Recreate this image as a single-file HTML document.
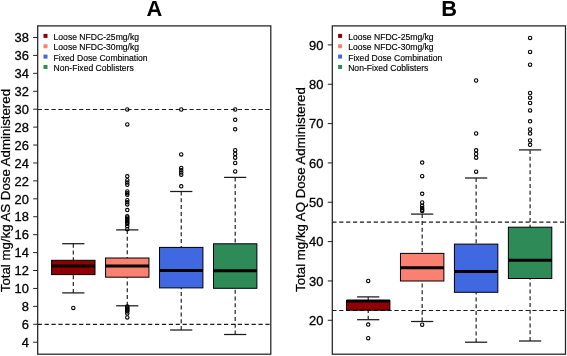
<!DOCTYPE html><html><head><meta charset="utf-8"><style>html,body{margin:0;padding:0;background:#fff;width:567px;height:356px;overflow:hidden}svg{display:block;will-change:transform}</style></head><body>
<svg width="567" height="356" viewBox="0 0 567 356" font-family='"Liberation Sans", sans-serif' fill="#000">
<line x1="37.7" y1="109.5" x2="270.8" y2="109.5" stroke="#1a1a1a" stroke-width="1.15" stroke-dasharray="4.2 2.7"/>
<line x1="37.7" y1="324.4" x2="270.8" y2="324.4" stroke="#1a1a1a" stroke-width="1.15" stroke-dasharray="4.2 2.7"/>
<line x1="73.31" y1="243.7" x2="73.31" y2="260.3" stroke="#1a1a1a" stroke-width="1.15" stroke-dasharray="4 2.8"/>
<line x1="73.31" y1="292.9" x2="73.31" y2="274.6" stroke="#1a1a1a" stroke-width="1.15" stroke-dasharray="4 2.8"/>
<line x1="62.21" y1="243.7" x2="84.41" y2="243.7" stroke="#1a1a1a" stroke-width="1.25"/>
<line x1="62.21" y1="292.9" x2="84.41" y2="292.9" stroke="#1a1a1a" stroke-width="1.25"/>
<rect x="51.61" y="260.3" width="43.4" height="14.3" fill="#900000" stroke="#000" stroke-width="1"/>
<line x1="51.61" y1="265.9" x2="95.01" y2="265.9" stroke="#000" stroke-width="3"/>
<circle cx="73.31" cy="307.9" r="1.7" fill="none" stroke="#000" stroke-width="1.1"/>
<line x1="127.27" y1="229.9" x2="127.27" y2="258" stroke="#1a1a1a" stroke-width="1.15" stroke-dasharray="4 2.8"/>
<line x1="127.27" y1="305.8" x2="127.27" y2="277.2" stroke="#1a1a1a" stroke-width="1.15" stroke-dasharray="4 2.8"/>
<line x1="116.17" y1="229.9" x2="138.37" y2="229.9" stroke="#1a1a1a" stroke-width="1.25"/>
<line x1="116.17" y1="305.8" x2="138.37" y2="305.8" stroke="#1a1a1a" stroke-width="1.25"/>
<rect x="105.57" y="258" width="43.4" height="19.2" fill="#fa8072" stroke="#000" stroke-width="1"/>
<line x1="105.57" y1="266" x2="148.97" y2="266" stroke="#000" stroke-width="3"/>
<circle cx="127.27" cy="109.5" r="1.7" fill="none" stroke="#000" stroke-width="1.1"/>
<circle cx="127.27" cy="124.4" r="1.7" fill="none" stroke="#000" stroke-width="1.1"/>
<circle cx="127.27" cy="176.3" r="1.7" fill="none" stroke="#000" stroke-width="1.1"/>
<circle cx="127.27" cy="180.2" r="1.7" fill="none" stroke="#000" stroke-width="1.1"/>
<circle cx="127.27" cy="182.5" r="1.7" fill="none" stroke="#000" stroke-width="1.1"/>
<circle cx="127.27" cy="184.8" r="1.7" fill="none" stroke="#000" stroke-width="1.1"/>
<circle cx="127.27" cy="191.5" r="1.7" fill="none" stroke="#000" stroke-width="1.1"/>
<circle cx="127.27" cy="193.2" r="1.7" fill="none" stroke="#000" stroke-width="1.1"/>
<circle cx="127.27" cy="194.8" r="1.7" fill="none" stroke="#000" stroke-width="1.1"/>
<circle cx="127.27" cy="200.2" r="1.7" fill="none" stroke="#000" stroke-width="1.1"/>
<circle cx="127.27" cy="202.3" r="1.7" fill="none" stroke="#000" stroke-width="1.1"/>
<circle cx="127.27" cy="204.4" r="1.7" fill="none" stroke="#000" stroke-width="1.1"/>
<circle cx="127.27" cy="210.1" r="1.7" fill="none" stroke="#000" stroke-width="1.1"/>
<circle cx="127.27" cy="216.2" r="1.7" fill="none" stroke="#000" stroke-width="1.1"/>
<circle cx="127.27" cy="217.5" r="1.7" fill="none" stroke="#000" stroke-width="1.1"/>
<circle cx="127.27" cy="218.8" r="1.7" fill="none" stroke="#000" stroke-width="1.1"/>
<circle cx="127.27" cy="220.1" r="1.7" fill="none" stroke="#000" stroke-width="1.1"/>
<circle cx="127.27" cy="221.4" r="1.7" fill="none" stroke="#000" stroke-width="1.1"/>
<circle cx="127.27" cy="222.7" r="1.7" fill="none" stroke="#000" stroke-width="1.1"/>
<circle cx="127.27" cy="224.0" r="1.7" fill="none" stroke="#000" stroke-width="1.1"/>
<circle cx="127.27" cy="226.3" r="1.7" fill="none" stroke="#000" stroke-width="1.1"/>
<circle cx="127.27" cy="229.2" r="1.7" fill="none" stroke="#000" stroke-width="1.1"/>
<circle cx="127.27" cy="306.5" r="1.7" fill="none" stroke="#000" stroke-width="1.1"/>
<circle cx="127.27" cy="307.5" r="1.7" fill="none" stroke="#000" stroke-width="1.1"/>
<circle cx="127.27" cy="308.5" r="1.7" fill="none" stroke="#000" stroke-width="1.1"/>
<circle cx="127.27" cy="309.5" r="1.7" fill="none" stroke="#000" stroke-width="1.1"/>
<circle cx="127.27" cy="310.5" r="1.7" fill="none" stroke="#000" stroke-width="1.1"/>
<circle cx="127.27" cy="311.5" r="1.7" fill="none" stroke="#000" stroke-width="1.1"/>
<circle cx="127.27" cy="313.5" r="1.7" fill="none" stroke="#000" stroke-width="1.1"/>
<circle cx="127.27" cy="317.4" r="1.7" fill="none" stroke="#000" stroke-width="1.1"/>
<line x1="181.23" y1="191.5" x2="181.23" y2="247.4" stroke="#1a1a1a" stroke-width="1.15" stroke-dasharray="4 2.8"/>
<line x1="181.23" y1="330" x2="181.23" y2="287.9" stroke="#1a1a1a" stroke-width="1.15" stroke-dasharray="4 2.8"/>
<line x1="170.13" y1="191.5" x2="192.33" y2="191.5" stroke="#1a1a1a" stroke-width="1.25"/>
<line x1="170.13" y1="330" x2="192.33" y2="330" stroke="#1a1a1a" stroke-width="1.25"/>
<rect x="159.53" y="247.4" width="43.4" height="40.5" fill="#3f68e1" stroke="#000" stroke-width="1"/>
<line x1="159.53" y1="270.4" x2="202.93" y2="270.4" stroke="#000" stroke-width="3"/>
<circle cx="181.23" cy="109.5" r="1.7" fill="none" stroke="#000" stroke-width="1.1"/>
<circle cx="181.23" cy="154.4" r="1.7" fill="none" stroke="#000" stroke-width="1.1"/>
<circle cx="181.23" cy="168" r="1.7" fill="none" stroke="#000" stroke-width="1.1"/>
<circle cx="181.23" cy="170.2" r="1.7" fill="none" stroke="#000" stroke-width="1.1"/>
<circle cx="181.23" cy="172.5" r="1.7" fill="none" stroke="#000" stroke-width="1.1"/>
<circle cx="181.23" cy="174.7" r="1.7" fill="none" stroke="#000" stroke-width="1.1"/>
<circle cx="181.23" cy="186.3" r="1.7" fill="none" stroke="#000" stroke-width="1.1"/>
<line x1="235.19" y1="177.4" x2="235.19" y2="243.8" stroke="#1a1a1a" stroke-width="1.15" stroke-dasharray="4 2.8"/>
<line x1="235.19" y1="334.5" x2="235.19" y2="288.3" stroke="#1a1a1a" stroke-width="1.15" stroke-dasharray="4 2.8"/>
<line x1="224.09" y1="177.4" x2="246.29" y2="177.4" stroke="#1a1a1a" stroke-width="1.25"/>
<line x1="224.09" y1="334.5" x2="246.29" y2="334.5" stroke="#1a1a1a" stroke-width="1.25"/>
<rect x="213.49" y="243.8" width="43.4" height="44.5" fill="#2e8b57" stroke="#000" stroke-width="1"/>
<line x1="213.49" y1="270.7" x2="256.89" y2="270.7" stroke="#000" stroke-width="3"/>
<circle cx="235.19" cy="109.5" r="1.7" fill="none" stroke="#000" stroke-width="1.1"/>
<circle cx="235.19" cy="119.8" r="1.7" fill="none" stroke="#000" stroke-width="1.1"/>
<circle cx="235.19" cy="129.3" r="1.7" fill="none" stroke="#000" stroke-width="1.1"/>
<circle cx="235.19" cy="150.2" r="1.7" fill="none" stroke="#000" stroke-width="1.1"/>
<circle cx="235.19" cy="153.9" r="1.7" fill="none" stroke="#000" stroke-width="1.1"/>
<circle cx="235.19" cy="157.7" r="1.7" fill="none" stroke="#000" stroke-width="1.1"/>
<circle cx="235.19" cy="163.0" r="1.7" fill="none" stroke="#000" stroke-width="1.1"/>
<circle cx="235.19" cy="171.4" r="1.7" fill="none" stroke="#000" stroke-width="1.1"/>
<rect x="37.7" y="25.9" width="233.1" height="328.3" fill="none" stroke="#222" stroke-width="1.25"/>
<line x1="33.2" y1="342.21" x2="37.7" y2="342.21" stroke="#222" stroke-width="1"/>
<text x="28.9" y="346.91" text-anchor="end" font-size="12.9" stroke="#000" stroke-width="0.3">4</text>
<line x1="33.2" y1="324.28" x2="37.7" y2="324.28" stroke="#222" stroke-width="1"/>
<text x="28.9" y="328.98" text-anchor="end" font-size="12.9" stroke="#000" stroke-width="0.3">6</text>
<line x1="33.2" y1="306.36" x2="37.7" y2="306.36" stroke="#222" stroke-width="1"/>
<text x="28.9" y="311.06" text-anchor="end" font-size="12.9" stroke="#000" stroke-width="0.3">8</text>
<line x1="33.2" y1="288.44" x2="37.7" y2="288.44" stroke="#222" stroke-width="1"/>
<text x="28.9" y="293.14" text-anchor="end" font-size="12.9" stroke="#000" stroke-width="0.3">10</text>
<line x1="33.2" y1="270.51" x2="37.7" y2="270.51" stroke="#222" stroke-width="1"/>
<text x="28.9" y="275.21" text-anchor="end" font-size="12.9" stroke="#000" stroke-width="0.3">12</text>
<line x1="33.2" y1="252.59" x2="37.7" y2="252.59" stroke="#222" stroke-width="1"/>
<text x="28.9" y="257.29" text-anchor="end" font-size="12.9" stroke="#000" stroke-width="0.3">14</text>
<line x1="33.2" y1="234.66" x2="37.7" y2="234.66" stroke="#222" stroke-width="1"/>
<text x="28.9" y="239.36" text-anchor="end" font-size="12.9" stroke="#000" stroke-width="0.3">16</text>
<line x1="33.2" y1="216.74" x2="37.7" y2="216.74" stroke="#222" stroke-width="1"/>
<text x="28.9" y="221.44" text-anchor="end" font-size="12.9" stroke="#000" stroke-width="0.3">18</text>
<line x1="33.2" y1="198.82" x2="37.7" y2="198.82" stroke="#222" stroke-width="1"/>
<text x="28.9" y="203.52" text-anchor="end" font-size="12.9" stroke="#000" stroke-width="0.3">20</text>
<line x1="33.2" y1="180.89" x2="37.7" y2="180.89" stroke="#222" stroke-width="1"/>
<text x="28.9" y="185.59" text-anchor="end" font-size="12.9" stroke="#000" stroke-width="0.3">22</text>
<line x1="33.2" y1="162.97" x2="37.7" y2="162.97" stroke="#222" stroke-width="1"/>
<text x="28.9" y="167.67" text-anchor="end" font-size="12.9" stroke="#000" stroke-width="0.3">24</text>
<line x1="33.2" y1="145.04" x2="37.7" y2="145.04" stroke="#222" stroke-width="1"/>
<text x="28.9" y="149.74" text-anchor="end" font-size="12.9" stroke="#000" stroke-width="0.3">26</text>
<line x1="33.2" y1="127.12" x2="37.7" y2="127.12" stroke="#222" stroke-width="1"/>
<text x="28.9" y="131.82" text-anchor="end" font-size="12.9" stroke="#000" stroke-width="0.3">28</text>
<line x1="33.2" y1="109.2" x2="37.7" y2="109.2" stroke="#222" stroke-width="1"/>
<text x="28.9" y="113.9" text-anchor="end" font-size="12.9" stroke="#000" stroke-width="0.3">30</text>
<line x1="33.2" y1="91.27" x2="37.7" y2="91.27" stroke="#222" stroke-width="1"/>
<text x="28.9" y="95.97" text-anchor="end" font-size="12.9" stroke="#000" stroke-width="0.3">32</text>
<line x1="33.2" y1="73.35" x2="37.7" y2="73.35" stroke="#222" stroke-width="1"/>
<text x="28.9" y="78.05" text-anchor="end" font-size="12.9" stroke="#000" stroke-width="0.3">34</text>
<line x1="33.2" y1="55.42" x2="37.7" y2="55.42" stroke="#222" stroke-width="1"/>
<text x="28.9" y="60.12" text-anchor="end" font-size="12.9" stroke="#000" stroke-width="0.3">36</text>
<line x1="33.2" y1="37.5" x2="37.7" y2="37.5" stroke="#222" stroke-width="1"/>
<text x="28.9" y="42.2" text-anchor="end" font-size="12.9" stroke="#000" stroke-width="0.3">38</text>
<text x="154.25" y="16" text-anchor="middle" font-size="21.8" font-weight="bold">A</text>
<text transform="translate(9.8,190.6) rotate(-90)" text-anchor="middle" font-size="13.25" stroke="#000" stroke-width="0.25">Total mg/kg AS Dose Administered</text>
<rect x="43.5" y="33.9" width="4" height="4" fill="#900000"/>
<text x="53.55" y="39.9" font-size="8.6" stroke="#000" stroke-width="0.15">Loose NFDC-25mg/kg</text>
<rect x="43.5" y="44.25" width="4" height="4" fill="#fa8072"/>
<text x="53.55" y="50.25" font-size="8.6" stroke="#000" stroke-width="0.15">Loose NFDC-30mg/kg</text>
<rect x="43.5" y="54.6" width="4" height="4" fill="#3f68e1"/>
<text x="53.55" y="60.6" font-size="8.6" stroke="#000" stroke-width="0.15">Fixed Dose Combination</text>
<rect x="43.5" y="64.95" width="4" height="4" fill="#2e8b57"/>
<text x="53.55" y="70.95" font-size="8.6" stroke="#000" stroke-width="0.15">Non-Fixed Coblisters</text>
<line x1="332.3" y1="222.1" x2="565.5" y2="222.1" stroke="#1a1a1a" stroke-width="1.15" stroke-dasharray="4.2 2.7"/>
<line x1="332.3" y1="310.5" x2="565.5" y2="310.5" stroke="#1a1a1a" stroke-width="1.15" stroke-dasharray="4.2 2.7"/>
<line x1="368.21" y1="296.9" x2="368.21" y2="300.5" stroke="#1a1a1a" stroke-width="1.15" stroke-dasharray="4 2.8"/>
<line x1="368.21" y1="319.7" x2="368.21" y2="310.2" stroke="#1a1a1a" stroke-width="1.15" stroke-dasharray="4 2.8"/>
<line x1="357.11" y1="296.9" x2="379.31" y2="296.9" stroke="#1a1a1a" stroke-width="1.25"/>
<line x1="357.11" y1="319.7" x2="379.31" y2="319.7" stroke="#1a1a1a" stroke-width="1.25"/>
<rect x="346.51" y="300.5" width="43.4" height="9.7" fill="#900000" stroke="#000" stroke-width="1"/>
<line x1="346.51" y1="301" x2="389.91" y2="301" stroke="#000" stroke-width="3"/>
<circle cx="368.21" cy="280.9" r="1.7" fill="none" stroke="#000" stroke-width="1.1"/>
<circle cx="368.21" cy="324.6" r="1.7" fill="none" stroke="#000" stroke-width="1.1"/>
<circle cx="368.21" cy="338.2" r="1.7" fill="none" stroke="#000" stroke-width="1.1"/>
<line x1="422.17" y1="214.1" x2="422.17" y2="253.4" stroke="#1a1a1a" stroke-width="1.15" stroke-dasharray="4 2.8"/>
<line x1="422.17" y1="321.5" x2="422.17" y2="281" stroke="#1a1a1a" stroke-width="1.15" stroke-dasharray="4 2.8"/>
<line x1="411.07" y1="214.1" x2="433.27" y2="214.1" stroke="#1a1a1a" stroke-width="1.25"/>
<line x1="411.07" y1="321.5" x2="433.27" y2="321.5" stroke="#1a1a1a" stroke-width="1.25"/>
<rect x="400.47" y="253.4" width="43.4" height="27.6" fill="#fa8072" stroke="#000" stroke-width="1"/>
<line x1="400.47" y1="267.8" x2="443.87" y2="267.8" stroke="#000" stroke-width="3"/>
<circle cx="422.17" cy="162.6" r="1.7" fill="none" stroke="#000" stroke-width="1.1"/>
<circle cx="422.17" cy="176.2" r="1.7" fill="none" stroke="#000" stroke-width="1.1"/>
<circle cx="422.17" cy="193.8" r="1.7" fill="none" stroke="#000" stroke-width="1.1"/>
<circle cx="422.17" cy="202.5" r="1.7" fill="none" stroke="#000" stroke-width="1.1"/>
<circle cx="422.17" cy="205.8" r="1.7" fill="none" stroke="#000" stroke-width="1.1"/>
<circle cx="422.17" cy="208.1" r="1.7" fill="none" stroke="#000" stroke-width="1.1"/>
<circle cx="422.17" cy="209.8" r="1.7" fill="none" stroke="#000" stroke-width="1.1"/>
<circle cx="422.17" cy="210.9" r="1.7" fill="none" stroke="#000" stroke-width="1.1"/>
<circle cx="422.17" cy="324.7" r="1.7" fill="none" stroke="#000" stroke-width="1.1"/>
<line x1="476.13" y1="178.0" x2="476.13" y2="244.1" stroke="#1a1a1a" stroke-width="1.15" stroke-dasharray="4 2.8"/>
<line x1="476.13" y1="342.2" x2="476.13" y2="292.3" stroke="#1a1a1a" stroke-width="1.15" stroke-dasharray="4 2.8"/>
<line x1="465.03" y1="178.0" x2="487.23" y2="178.0" stroke="#1a1a1a" stroke-width="1.25"/>
<line x1="465.03" y1="342.2" x2="487.23" y2="342.2" stroke="#1a1a1a" stroke-width="1.25"/>
<rect x="454.43" y="244.1" width="43.4" height="48.2" fill="#3f68e1" stroke="#000" stroke-width="1"/>
<line x1="454.43" y1="271.4" x2="497.83" y2="271.4" stroke="#000" stroke-width="3"/>
<circle cx="476.13" cy="80.5" r="1.7" fill="none" stroke="#000" stroke-width="1.1"/>
<circle cx="476.13" cy="133.5" r="1.7" fill="none" stroke="#000" stroke-width="1.1"/>
<circle cx="476.13" cy="150.3" r="1.7" fill="none" stroke="#000" stroke-width="1.1"/>
<circle cx="476.13" cy="154.0" r="1.7" fill="none" stroke="#000" stroke-width="1.1"/>
<circle cx="476.13" cy="157.7" r="1.7" fill="none" stroke="#000" stroke-width="1.1"/>
<circle cx="476.13" cy="171.7" r="1.7" fill="none" stroke="#000" stroke-width="1.1"/>
<line x1="530.09" y1="149.9" x2="530.09" y2="227.2" stroke="#1a1a1a" stroke-width="1.15" stroke-dasharray="4 2.8"/>
<line x1="530.09" y1="341" x2="530.09" y2="278.5" stroke="#1a1a1a" stroke-width="1.15" stroke-dasharray="4 2.8"/>
<line x1="518.99" y1="149.9" x2="541.19" y2="149.9" stroke="#1a1a1a" stroke-width="1.25"/>
<line x1="518.99" y1="341" x2="541.19" y2="341" stroke="#1a1a1a" stroke-width="1.25"/>
<rect x="508.39" y="227.2" width="43.4" height="51.3" fill="#2e8b57" stroke="#000" stroke-width="1"/>
<line x1="508.39" y1="260.2" x2="551.79" y2="260.2" stroke="#000" stroke-width="3"/>
<circle cx="530.09" cy="37.9" r="1.7" fill="none" stroke="#000" stroke-width="1.1"/>
<circle cx="530.09" cy="51.9" r="1.7" fill="none" stroke="#000" stroke-width="1.1"/>
<circle cx="530.09" cy="64.7" r="1.7" fill="none" stroke="#000" stroke-width="1.1"/>
<circle cx="530.09" cy="93" r="1.7" fill="none" stroke="#000" stroke-width="1.1"/>
<circle cx="530.09" cy="97.7" r="1.7" fill="none" stroke="#000" stroke-width="1.1"/>
<circle cx="530.09" cy="103" r="1.7" fill="none" stroke="#000" stroke-width="1.1"/>
<circle cx="530.09" cy="110.4" r="1.7" fill="none" stroke="#000" stroke-width="1.1"/>
<circle cx="530.09" cy="121.3" r="1.7" fill="none" stroke="#000" stroke-width="1.1"/>
<circle cx="530.09" cy="129.4" r="1.7" fill="none" stroke="#000" stroke-width="1.1"/>
<circle cx="530.09" cy="133.6" r="1.7" fill="none" stroke="#000" stroke-width="1.1"/>
<circle cx="530.09" cy="140.4" r="1.7" fill="none" stroke="#000" stroke-width="1.1"/>
<circle cx="530.09" cy="144.8" r="1.7" fill="none" stroke="#000" stroke-width="1.1"/>
<rect x="332.3" y="25.9" width="233.2" height="328.3" fill="none" stroke="#222" stroke-width="1.25"/>
<line x1="327.8" y1="320.28" x2="332.3" y2="320.28" stroke="#222" stroke-width="1"/>
<text x="323.4" y="324.98" text-anchor="end" font-size="12.9" stroke="#000" stroke-width="0.3">20</text>
<line x1="327.8" y1="280.94" x2="332.3" y2="280.94" stroke="#222" stroke-width="1"/>
<text x="323.4" y="285.64" text-anchor="end" font-size="12.9" stroke="#000" stroke-width="0.3">30</text>
<line x1="327.8" y1="241.6" x2="332.3" y2="241.6" stroke="#222" stroke-width="1"/>
<text x="323.4" y="246.3" text-anchor="end" font-size="12.9" stroke="#000" stroke-width="0.3">40</text>
<line x1="327.8" y1="202.26" x2="332.3" y2="202.26" stroke="#222" stroke-width="1"/>
<text x="323.4" y="206.96" text-anchor="end" font-size="12.9" stroke="#000" stroke-width="0.3">50</text>
<line x1="327.8" y1="162.92" x2="332.3" y2="162.92" stroke="#222" stroke-width="1"/>
<text x="323.4" y="167.62" text-anchor="end" font-size="12.9" stroke="#000" stroke-width="0.3">60</text>
<line x1="327.8" y1="123.58" x2="332.3" y2="123.58" stroke="#222" stroke-width="1"/>
<text x="323.4" y="128.28" text-anchor="end" font-size="12.9" stroke="#000" stroke-width="0.3">70</text>
<line x1="327.8" y1="84.24" x2="332.3" y2="84.24" stroke="#222" stroke-width="1"/>
<text x="323.4" y="88.94" text-anchor="end" font-size="12.9" stroke="#000" stroke-width="0.3">80</text>
<line x1="327.8" y1="44.9" x2="332.3" y2="44.9" stroke="#222" stroke-width="1"/>
<text x="323.4" y="49.6" text-anchor="end" font-size="12.9" stroke="#000" stroke-width="0.3">90</text>
<text x="449.1" y="16" text-anchor="middle" font-size="21.8" font-weight="bold">B</text>
<text transform="translate(304.5,189.5) rotate(-90)" text-anchor="middle" font-size="13.25" stroke="#000" stroke-width="0.25">Total mg/kg AQ Dose Administered</text>
<rect x="338.1" y="33.9" width="4" height="4" fill="#900000"/>
<text x="348.15" y="39.9" font-size="8.6" stroke="#000" stroke-width="0.15">Loose NFDC-25mg/kg</text>
<rect x="338.1" y="44.25" width="4" height="4" fill="#fa8072"/>
<text x="348.15" y="50.25" font-size="8.6" stroke="#000" stroke-width="0.15">Loose NFDC-30mg/kg</text>
<rect x="338.1" y="54.6" width="4" height="4" fill="#3f68e1"/>
<text x="348.15" y="60.6" font-size="8.6" stroke="#000" stroke-width="0.15">Fixed Dose Combination</text>
<rect x="338.1" y="64.95" width="4" height="4" fill="#2e8b57"/>
<text x="348.15" y="70.95" font-size="8.6" stroke="#000" stroke-width="0.15">Non-Fixed Coblisters</text>
</svg></body></html>
